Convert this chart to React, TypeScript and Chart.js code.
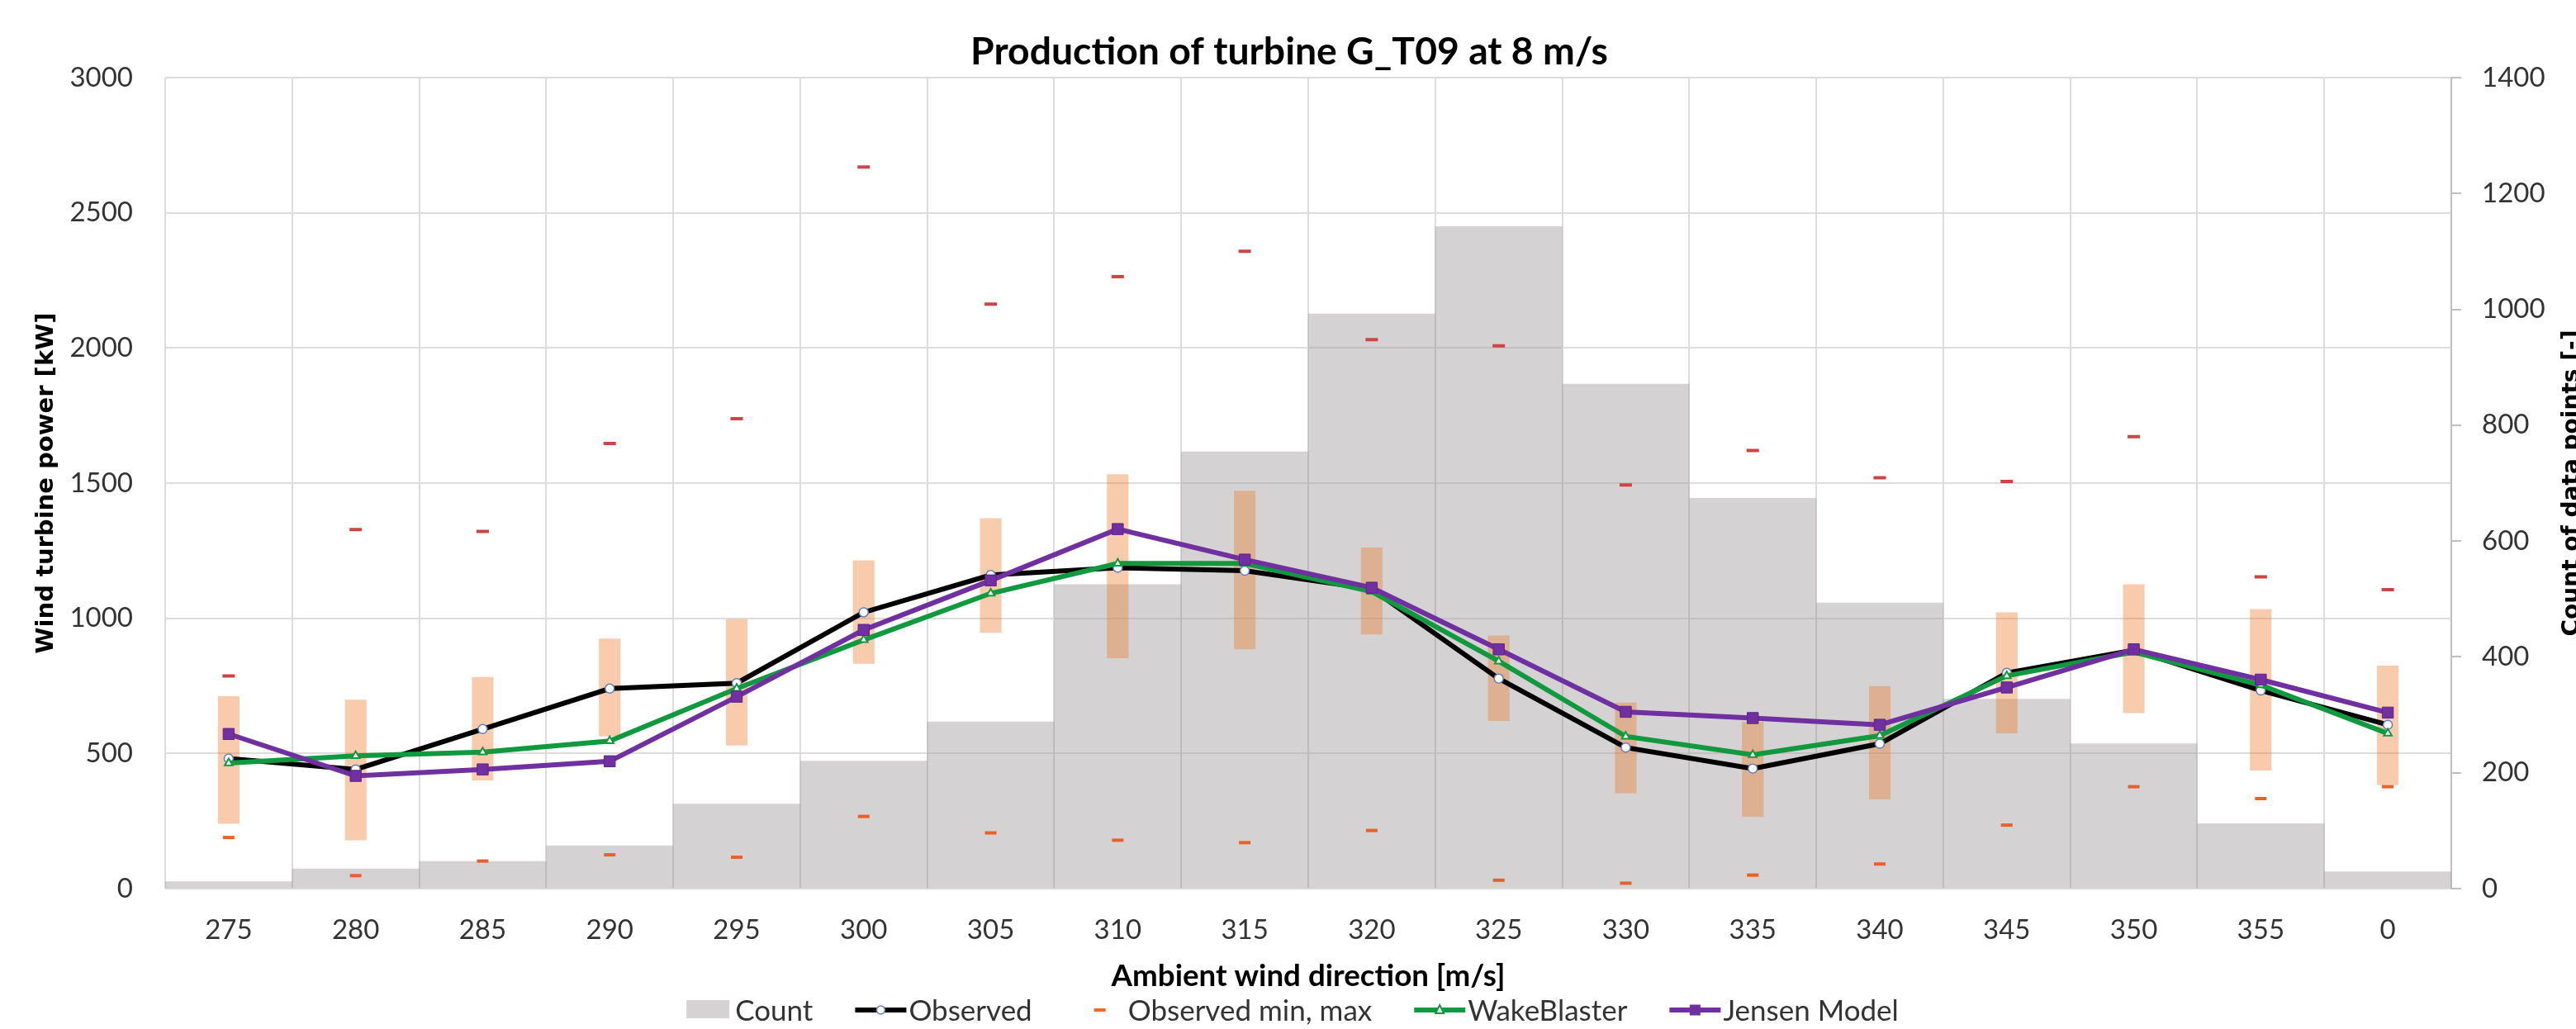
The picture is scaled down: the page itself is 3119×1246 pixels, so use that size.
import React, { useEffect, useRef } from "react";
import { Chart, registerables } from "chart.js";

Chart.register(...registerables);

// ---- data ----
const directions = ["275", "280", "285", "290", "295", "300", "305", "310", "315", "320", "325", "330", "335", "340", "345", "350", "355", "0"];
const countValues = [12, 34, 47, 74, 146, 220, 288, 525, 754, 992, 1143, 871, 674, 493, 327, 250, 112, 29];
const observedValues = [481, 441, 590, 740, 760, 1022, 1160, 1187, 1176, 1108, 777, 522, 444, 536, 798, 882, 733, 606];
const wakeBlasterValues = [464, 491, 505, 546, 740, 920, 1092, 1203, 1203, 1099, 841, 563, 495, 566, 787, 875, 753, 574];
const jensenValues = [572, 417, 441, 471, 710, 957, 1140, 1330, 1217, 1113, 885, 654, 631, 606, 744, 885, 773, 651];
const rangeLow = [240, 179, 400, 563, 529, 832, 946, 852, 885, 940, 620, 353, 265, 330, 574, 649, 437, 383];
const rangeHigh = [712, 699, 783, 925, 997, 1214, 1370, 1533, 1472, 1262, 936, 688, 617, 749, 1022, 1126, 1034, 825];
const observedMax = [787, 1328, 1321, 1647, 1738, 2669, 2162, 2264, 2358, 2031, 2008, 1493, 1621, 1520, 1506, 1672, 1153, 1106];
const observedMin = [189, 48, 102, 125, 116, 267, 206, 179, 170, 215, 31, 20, 50, 91, 235, 377, 333, 377];

const powerTicks = { min: 0, max: 3000, step: 500 };
const countTicks = { min: 0, max: 1400, step: 200 };

const TITLE = "Production of turbine G_T09 at 8 m/s";
const X_TITLE = "Ambient wind direction [m/s]";
const Y_TITLE = "Wind turbine power [kW]";
const Y2_TITLE = "Count of data points [-]";
const LEGEND_LABELS = ["Count", "Observed", "Observed min, max", "WakeBlaster", "Jensen Model"];

const COLORS = {
  countBar: "rgba(166,161,161,0.48)",
  countLegend: "#d4d2d2",
  range: "rgba(237,125,49,0.40)",
  observed: "#000000",
  observedMarker: "#5b7fc4",
  wake: "#11993f",
  jensen: "#7030a0",
  maxDash: "#cc4444",
  minDash: "#e8612c",
  legendDash: "#ee6a2c",
  grid: "#dcdcdc",
  text: "#333333",
};

const TICK_FONT = { family: "Lato", size: 33 };

// draw text fitted to a target width
function fitText(ctx: CanvasRenderingContext2D, text: string, weight: string, family: string, base: number, target: number) {
  ctx.font = `${weight} ${base}px ${family}`;
  const w = ctx.measureText(text).width;
  const size = w > 0 ? (base * target) / w : base;
  ctx.font = `${weight} ${size.toFixed(2)}px ${family}`;
}

const decorPlugin = {
  id: "decor",
  afterDraw(chart: any) {
    const ctx = chart.ctx as CanvasRenderingContext2D;
    const { left, right, top, bottom } = chart.chartArea;
    const midY = (top + bottom) / 2;
    ctx.save();
    ctx.fillStyle = "#000";
    ctx.textBaseline = "alphabetic";
    ctx.textAlign = "center";

    fitText(ctx, TITLE, "bold", "Lato", 45, 772);
    ctx.fillText(TITLE, 1561, 78);

    fitText(ctx, X_TITLE, "bold", "Lato", 34, 477);
    ctx.fillText(X_TITLE, (left + right) / 2, 1194);

    fitText(ctx, Y_TITLE, "bold", '"DejaVu Sans", Verdana, sans-serif', 29, 413);
    ctx.save();
    ctx.translate(64, midY);
    ctx.rotate(-Math.PI / 2);
    ctx.fillText(Y_TITLE, 0, 0);
    ctx.restore();

    fitText(ctx, Y2_TITLE, "bold", '"DejaVu Sans", Verdana, sans-serif', 29, 371);
    ctx.save();
    ctx.translate(3122, midY);
    ctx.rotate(-Math.PI / 2);
    ctx.fillText(Y2_TITLE, 0, 0);
    ctx.restore();

    // legend
    ctx.font = "35px Lato";
    ctx.textAlign = "left";
    const labels = LEGEND_LABELS;
    const widths = labels.map((l) => ctx.measureText(l).width);
    const symW = [52, 62, 62, 62, 62];
    const gapW = [7, 3, 3, 3, 3];
    const spacing = 51;
    let total = 0;
    labels.forEach((_, i) => {
      total += symW[i] + gapW[i] + widths[i];
      if (i < labels.length - 1) total += spacing;
    });
    let x = 1565 - total / 2;
    const baseY = 1236;
    const cy = 1223;
    labels.forEach((label, i) => {
      const sx = x;
      const cx = sx + symW[i] / 2;
      if (i === 0) {
        ctx.fillStyle = COLORS.countLegend;
        ctx.fillRect(sx, 1211, 52, 22);
      } else if (i === 2) {
        ctx.fillStyle = COLORS.legendDash;
        ctx.fillRect(cx - 7, cy - 2, 14, 4);
      } else {
        const col = i === 1 ? COLORS.observed : i === 3 ? COLORS.wake : COLORS.jensen;
        ctx.strokeStyle = col;
        ctx.lineWidth = 6;
        ctx.beginPath();
        ctx.moveTo(sx, cy);
        ctx.lineTo(sx + symW[i], cy);
        ctx.stroke();
        if (i === 1) {
          ctx.fillStyle = "#fff";
          ctx.strokeStyle = COLORS.observedMarker;
          ctx.lineWidth = 1.5;
          ctx.beginPath();
          ctx.arc(cx, cy, 5, 0, Math.PI * 2);
          ctx.fill();
          ctx.stroke();
        } else if (i === 3) {
          ctx.fillStyle = "#fff";
          ctx.strokeStyle = COLORS.wake;
          ctx.lineWidth = 2;
          ctx.beginPath();
          ctx.moveTo(cx, cy - 6);
          ctx.lineTo(cx + 5, cy + 4);
          ctx.lineTo(cx - 5, cy + 4);
          ctx.closePath();
          ctx.fill();
          ctx.stroke();
        } else {
          ctx.fillStyle = COLORS.jensen;
          ctx.fillRect(cx - 6.5, cy - 6.5, 13, 13);
        }
      }
      ctx.fillStyle = COLORS.text;
      ctx.fillText(label, sx + symW[i] + gapW[i], baseY);
      x = sx + symW[i] + gapW[i] + widths[i] + spacing;
    });
    ctx.restore();
  },
};

const plainTick = (v: any) => String(v);

export default function App() {
  const canvasRef = useRef<HTMLCanvasElement | null>(null);

  useEffect(() => {
    document.body.style.margin = "0";
    document.body.style.overflow = "hidden";
    const canvas = canvasRef.current;
    if (!canvas) return;

    const chart = new Chart(canvas, {
      type: "bar",
      data: {
        labels: directions,
        datasets: [
          {
            type: "line",
            label: "Observed max",
            data: observedMax,
            yAxisID: "y",
            showLine: false,
            pointStyle: "line",
            pointRadius: 7.5,
            pointBorderWidth: 4,
            pointBorderColor: COLORS.maxDash,
            borderColor: COLORS.maxDash,
            order: 0,
          },
          {
            type: "line",
            label: "Observed min",
            data: observedMin,
            yAxisID: "y",
            showLine: false,
            pointStyle: "line",
            pointRadius: 7,
            pointBorderWidth: 4,
            pointBorderColor: COLORS.minDash,
            borderColor: COLORS.minDash,
            order: 0,
          },
          {
            type: "line",
            label: "Jensen Model",
            data: jensenValues,
            yAxisID: "y",
            borderColor: COLORS.jensen,
            borderWidth: 6,
            tension: 0,
            fill: false,
            pointStyle: "rect",
            pointRadius: 9.5,
            pointBackgroundColor: COLORS.jensen,
            pointBorderColor: "#5e2588",
            pointBorderWidth: 1,
            order: 1,
          },
          {
            type: "line",
            label: "WakeBlaster",
            data: wakeBlasterValues,
            yAxisID: "y",
            borderColor: COLORS.wake,
            borderWidth: 6,
            tension: 0,
            fill: false,
            pointStyle: "triangle",
            pointRadius: 5.5,
            pointBackgroundColor: "#ffffff",
            pointBorderColor: COLORS.wake,
            pointBorderWidth: 2,
            order: 2,
          },
          {
            type: "line",
            label: "Observed",
            data: observedValues,
            yAxisID: "y",
            borderColor: COLORS.observed,
            borderWidth: 6,
            tension: 0,
            fill: false,
            pointStyle: "circle",
            pointRadius: 5.5,
            pointBackgroundColor: "#ffffff",
            pointBorderColor: COLORS.observedMarker,
            pointBorderWidth: 1.5,
            order: 3,
          },
          {
            type: "bar",
            label: "Observed range",
            data: rangeLow.map((lo, i) => [lo, rangeHigh[i]]),
            yAxisID: "y",
            backgroundColor: COLORS.range,
            borderWidth: 0,
            grouped: false,
            barPercentage: 0.17,
            categoryPercentage: 1,
            order: 5,
          },
          {
            type: "bar",
            label: "Count",
            data: countValues,
            yAxisID: "yCount",
            backgroundColor: COLORS.countBar,
            borderWidth: 0,
            grouped: false,
            barPercentage: 1,
            categoryPercentage: 1,
            order: 6,
          },
        ] as any,
      },
      options: {
        responsive: false,
        animation: false,
        devicePixelRatio: 1,
        events: [],
        layout: { padding: { top: 94, left: 0, right: 0, bottom: 0 } },
        plugins: {
          legend: { display: false },
          title: { display: false },
          tooltip: { enabled: false },
        },
        scales: {
          x: {
            type: "category",
            offset: true,
            grid: { offset: true, color: COLORS.grid, lineWidth: 2, drawTicks: false },
            border: { display: false },
            ticks: { font: TICK_FONT, color: COLORS.text, padding: 31, autoSkip: false, maxRotation: 0 },
            afterFit(scale: any) {
              scale.height = 170;
            },
          },
          y: {
            type: "linear",
            position: "left",
            min: powerTicks.min,
            max: powerTicks.max,
            grid: { color: COLORS.grid, lineWidth: 2, drawTicks: false },
            border: { display: false },
            ticks: { stepSize: powerTicks.step, font: TICK_FONT, color: COLORS.text, padding: 39, callback: plainTick },
            afterFit(scale: any) {
              scale.width = 200;
            },
          },
          yCount: {
            type: "linear",
            position: "right",
            min: countTicks.min,
            max: countTicks.max,
            grid: { drawOnChartArea: false, drawTicks: true, tickLength: 12, color: "#bfbfbf", lineWidth: 2 },
            border: { display: true, color: "#bfbfbf", width: 2 },
            ticks: { stepSize: countTicks.step, font: TICK_FONT, color: COLORS.text, padding: 25, callback: plainTick },
            afterFit(scale: any) {
              scale.width = 151;
            },
          },
        },
      } as any,
      plugins: [decorPlugin],
    });

    if ((document as any).fonts && (document as any).fonts.ready) {
      (document as any).fonts.ready.then(() => {
        try {
          chart.update();
        } catch (e) {}
      });
    }

    return () => {
      chart.destroy();
    };
  }, []);

  return (
    <div style={{ width: 3119, height: 1246, position: "relative", background: "#fff" }}>
      <canvas ref={canvasRef} width={3119} height={1246} style={{ width: 3119, height: 1246, display: "block" }} />
    </div>
  );
}
